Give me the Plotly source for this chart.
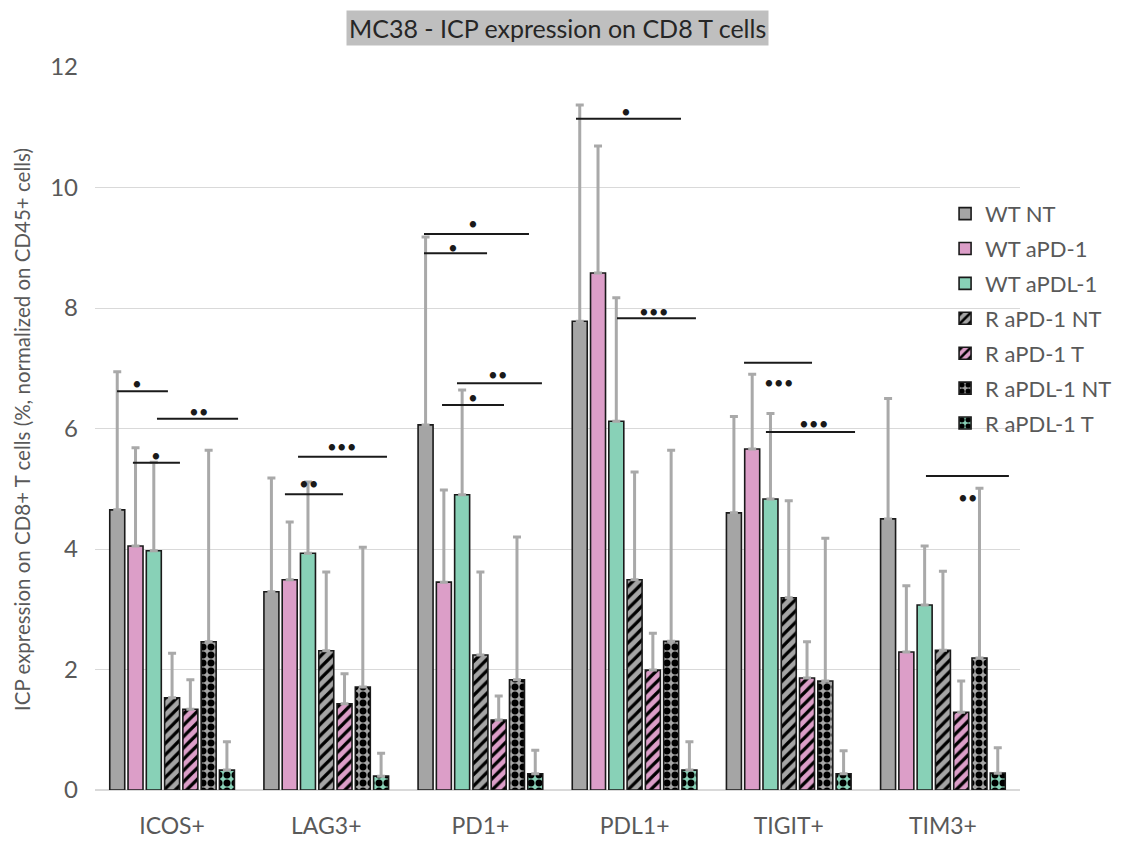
import plotly.graph_objects as go

categories = ["ICOS+", "LAG3+", "PD1+", "PDL1+", "TIGIT+", "TIM3+"]
series_names = ["WT NT", "WT aPD-1", "WT aPDL-1", "R aPD-1 NT", "R aPD-1 T", "R aPDL-1 NT", "R aPDL-1 T"]

wt_nt = [4.65, 3.29, 6.06, 7.78, 4.60, 4.50]
wt_apd1 = [4.05, 3.49, 3.45, 8.58, 5.66, 2.29]
wt_apdl1 = [3.97, 3.93, 4.90, 6.12, 4.83, 3.07]
r_apd1_nt = [1.53, 2.31, 2.24, 3.49, 3.19, 2.32]
r_apd1_t = [1.34, 1.43, 1.16, 1.99, 1.86, 1.29]
r_apdl1_nt = [2.46, 1.71, 1.83, 2.47, 1.81, 2.19]
r_apdl1_t = [0.33, 0.23, 0.27, 0.33, 0.27, 0.28]

# top of error bars (mean + SD)
wt_nt_err = [6.94, 5.18, 9.18, 11.37, 6.20, 6.50]
wt_apd1_err = [5.68, 4.45, 4.98, 10.69, 6.90, 3.39]
wt_apdl1_err = [5.44, 5.11, 6.64, 8.17, 6.25, 4.05]
r_apd1_nt_err = [2.27, 3.62, 3.62, 5.28, 4.80, 3.63]
r_apd1_t_err = [1.83, 1.93, 1.56, 2.60, 2.46, 1.81]
r_apdl1_nt_err = [5.64, 4.03, 4.20, 5.64, 4.18, 5.01]
r_apdl1_t_err = [0.80, 0.61, 0.66, 0.80, 0.65, 0.70]

y_ticks = [0, 2, 4, 6, 8, 10, 12]

# significance brackets: x start, x end (category units), y level, label, label x, label y
sig_x0 = [-0.357, -0.098, -0.254, 0.817, 0.732, 1.634, 1.634, 1.848, 1.751, 2.620, 2.886, 3.710, 3.852, 4.890]
sig_x1 = [-0.027, 0.428, 0.051, 1.394, 1.109, 2.315, 2.043, 2.399, 2.153, 3.301, 3.398, 4.151, 4.430, 5.428]
sig_y = [6.62, 6.16, 5.43, 5.53, 4.91, 9.23, 8.91, 6.75, 6.39, 11.14, 7.83, 7.09, 5.94, 5.21]
sig_label = ["*", "**", "*", "***", "**", "*", "*", "**", "*", "*", "***", "***", "***", "**"]
sig_lx = [-0.228, 0.175, -0.104, 1.102, 0.888, 1.952, 1.822, 2.114, 1.952, 2.944, 3.126, 3.937, 4.164, 5.163]
sig_ly = [6.74, 6.29, 5.56, 5.70, 5.08, 9.41, 9.01, 6.90, 6.51, 11.26, 7.95, 6.76, 6.09, 4.86]

means = [wt_nt, wt_apd1, wt_apdl1, r_apd1_nt, r_apd1_t, r_apdl1_nt, r_apdl1_t]
tops = [wt_nt_err, wt_apd1_err, wt_apdl1_err, r_apd1_nt_err, r_apd1_t_err, r_apdl1_nt_err, r_apdl1_t_err]

colors = ["#A5A5A5", "#DC9EC8", "#88D1B7", "#A5A5A5", "#DC9EC8", "#A5A5A5", "#88D1B7"]
patterns = ["", "", "", "/", "/", ".", "."]

FONT = "Lato"

fig = go.Figure()
xs = list(range(len(categories)))
for i, name in enumerate(series_names):
    marker = dict(color=colors[i], line=dict(color="#1a1a1a", width=1.6))
    if patterns[i] == "/":
        marker["pattern"] = dict(shape="/", fgcolor="black", bgcolor=colors[i], size=8, solidity=0.4, fillmode="replace")
    elif patterns[i] == ".":
        marker["pattern"] = dict(shape=".", fgcolor="black", bgcolor=colors[i], size=8, solidity=0.6, fillmode="replace")
    fig.add_trace(go.Bar(
        x=xs, y=means[i], name=name, legendgroup=name, marker=marker,
        error_y=dict(type="data", symmetric=False,
                     array=[t - m for t, m in zip(tops[i], means[i])],
                     arrayminus=[0] * len(xs),
                     color="#A9A9A9", thickness=3, width=4),
    ))

for x0, x1, y, lab, lx, ly in zip(sig_x0, sig_x1, sig_y, sig_label, sig_lx, sig_ly):
    fig.add_shape(type="line", x0=x0, x1=x1, y0=y, y1=y, xref="x", yref="y",
                  line=dict(color="#1a1a1a", width=2))
    fig.add_annotation(x=lx, y=ly, xref="x", yref="y", text="\u2022" * len(lab),
                       showarrow=False, font=dict(size=17, color="#1a1a1a"),
                       yanchor="middle", xanchor="center")

fig.add_annotation(text="MC38 - ICP expression on CD8 T cells", xref="paper", yref="paper",
                   x=0.5, y=1.0, yshift=39, showarrow=False, bgcolor="#BFBFBF",
                   font=dict(size=25, color="#262626", family=FONT), borderpad=2,
                   xanchor="center", yanchor="middle")

fig.add_annotation(text="ICP expression on CD8+ T cells (%, normalized on CD45+ cells)",
                   xref="paper", yref="paper", x=-0.0789, y=0.498, textangle=-90,
                   showarrow=False, xanchor="center", yanchor="middle",
                   font=dict(size=20.5, color="#595959", family=FONT))

fig.update_layout(
    width=1121, height=846,
    margin=dict(l=87, r=109, t=59, b=64, autoexpand=False),
    plot_bgcolor="white", paper_bgcolor="white",
    barmode="group", bargap=0.17, bargroupgap=0.18,
    font=dict(family=FONT, color="#595959"),
    xaxis=dict(range=[-0.5, 5.5], tickvals=xs, ticktext=categories, showgrid=False,
               zeroline=False, showline=False, ticks="", automargin=False,
               ticklabelstandoff=20,
               tickfont=dict(size=23, color="#595959")),
    yaxis=dict(range=[0, 12], tickvals=y_ticks, showgrid=True, gridcolor="#D9D9D9", gridwidth=1,
               zeroline=True, zerolinecolor="#D9D9D9", showline=False, ticks="",
               automargin=False, ticklabelstandoff=16,
               tickfont=dict(size=24, color="#595959")),
    legend=dict(x=0.919, y=0.826, xanchor="left", yanchor="top", bgcolor="rgba(0,0,0,0)",
                font=dict(size=22, color="#595959"), tracegroupgap=3.3, traceorder="grouped"),
    showlegend=True,
)

fig.write_html("out.html")
